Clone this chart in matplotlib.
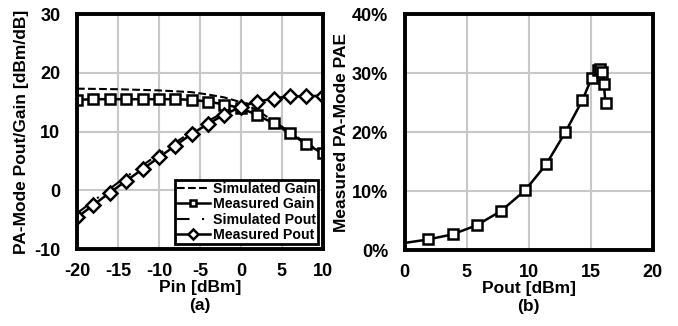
import numpy as np
import matplotlib.pyplot as plt

plt.rcParams['font.family'] = ['Liberation Sans', 'DejaVu Sans']
plt.rcParams['font.weight'] = 'bold'
plt.rcParams['axes.unicode_minus'] = False

# (a) gain / pout vs pin
pin_meas = [-20, -18, -16, -14, -12, -10, -8, -6, -4, -2, 0, 2, 4, 6, 8, 10]
gain_meas = [15.4, 15.5, 15.5, 15.5, 15.5, 15.5, 15.5, 15.4, 15.1, 14.6, 14.0, 12.8, 11.4, 9.7, 7.85, 6.3]
pout_meas = [-4.6, -2.5, -0.4, 1.6, 3.6, 5.6, 7.6, 9.6, 11.3, 12.9, 14.2, 15.1, 15.6, 16.0, 16.0, 16.1]

pin_sim = [-20, -15, -10, -6, -4, -2, 0, 2, 4, 6, 8, 10]
gain_sim = [17.3, 17.2, 17.0, 16.7, 16.3, 15.8, 15.0, 13.6, 11.8, 9.9, 8.0, 6.5]
pout_sim = [-3.9, 1.3, 6.2, 10.0, 11.8, 13.3, 14.4, 15.1, 15.6, 16.0, 16.1, 16.2]

# (b) PAE vs pout
pae_pout = [0.0, 1.88, 3.85, 5.79, 7.75, 9.69, 11.39, 12.95, 14.32, 15.07, 15.56, 15.77, 15.93, 16.04, 16.18]
pae = [1.2, 1.8, 2.65, 4.2, 6.6, 10.1, 14.5, 20.0, 25.4, 29.2, 30.5, 30.6, 30.2, 28.1, 25.0]

fig = plt.figure(figsize=(6.78, 3.26), dpi=100)
ax1 = fig.add_axes([0.1136, 0.236, 0.3624, 0.721])
ax2 = fig.add_axes([0.597, 0.233, 0.366, 0.724])

grid_kw = dict(color='#c8c8c8', linewidth=1.5)
mk = dict(markerfacecolor='white', markeredgecolor='black', markeredgewidth=1.8)

ax1.plot(pin_sim, gain_sim, '--', color='black', lw=1.5, label='Simulated Gain')
ax1.plot(pin_meas, gain_meas, '-', color='black', lw=1.8, marker='s', markersize=6.5, label='Measured Gain', **mk)
ax1.plot(pin_sim, pout_sim, color='black', lw=1.5, linestyle=(0, (6, 6, 1, 6)), label='Simulated Pout')
ax1.plot(pin_meas, pout_meas, '-', color='black', lw=1.8, marker='D', markersize=7, label='Measured Pout', **mk)
ax1.set_xlim(-20, 10)
ax1.set_ylim(-10, 30)
ax1.set_xticks(np.arange(-20, 11, 5))
ax1.set_yticks(np.arange(-10, 31, 10))
ax1.grid(True, **grid_kw)
ax1.set_axisbelow(True)
ax1.set_xlabel('Pin [dBm]\n(a)', fontsize=12.5, fontweight='bold', labelpad=0, linespacing=1.25)
ax1.set_ylabel('PA-Mode Pout/Gain [dBm/dB]', fontsize=12.5, fontweight='bold', labelpad=4)
leg = ax1.legend(loc='lower right', fontsize=10.2, handlelength=2.3, handletextpad=0.2,
                 borderpad=0.15, labelspacing=0.1, borderaxespad=0.35, fancybox=False,
                 framealpha=1, edgecolor='black', markerscale=0.75)
leg.get_frame().set_linewidth(2)

ax2.plot(pae_pout, pae, '-', color='black', lw=1.8, marker='s', markersize=7.5,
         markevery=list(range(1, len(pae))), **mk)
ax2.set_xlim(0, 20)
ax2.set_ylim(0, 40)
ax2.set_xticks(np.arange(0, 21, 5))
ax2.set_yticks(np.arange(0, 41, 10))
ax2.set_yticklabels([f'{v}%' for v in range(0, 41, 10)])
ax2.grid(True, **grid_kw)
ax2.set_axisbelow(True)
ax2.set_xlabel('Pout [dBm]\n(b)', fontsize=12.5, fontweight='bold', labelpad=0, linespacing=1.25)
ax2.set_ylabel('Measured PA-Mode PAE', fontsize=12.5, fontweight='bold', labelpad=2)

for ax in (ax1, ax2):
    for s in ax.spines.values():
        s.set_linewidth(2.8)
    ax.tick_params(axis='x', length=0, labelsize=13, pad=10)
    ax.tick_params(axis='y', length=0, labelsize=13, pad=12)
    for t in ax.get_xticklabels() + ax.get_yticklabels():
        t.set_fontweight('bold')

fig.savefig('out.png', dpi=100)
